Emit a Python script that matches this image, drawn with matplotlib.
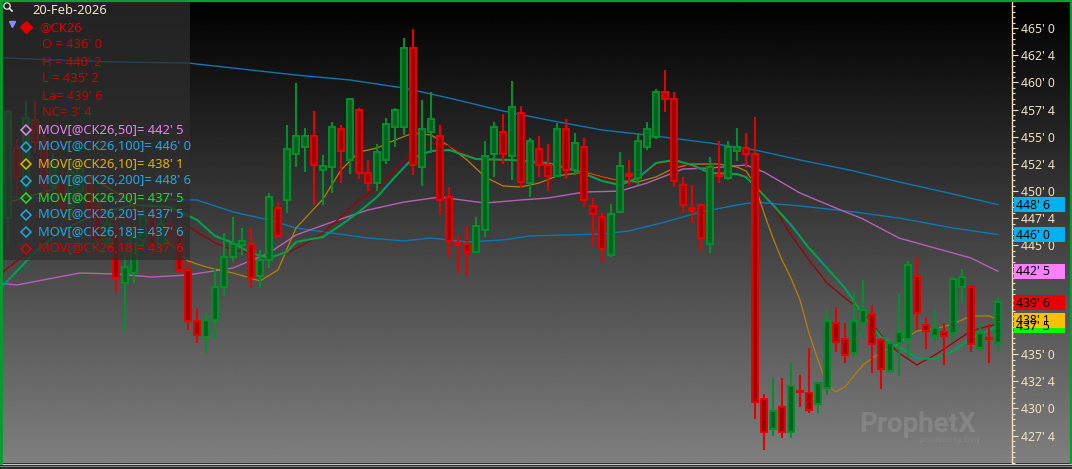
import numpy as np
import matplotlib
matplotlib.use("Agg")
import matplotlib.pyplot as plt
from matplotlib.patches import Rectangle, Circle
from matplotlib.transforms import blended_transform_factory

plt.rcParams['font.family'] = ['Noto Sans', 'DejaVu Sans']

# ---------------- data ----------------
opens = [
    447.5, 454.0, 450.5, 456.5, 454.5, 450.5, 450.75, 448.5, 450.0, 450.75,
    448.5, 445.5, 446.5, 441.5, 442.5, 445.5, 447.75, 445.0, 447.0, 446.0,
    442.75, 438.0, 436.6, 438.1, 441.2, 443.9, 445.0, 445.1, 442.2, 443.7,
    448.4, 449.2, 453.4, 454.1, 455.1, 451.9, 452.2, 455.7, 452.9, 457.5,
    451.7, 450.7, 452.9, 455.9, 455.9, 463.2, 452.2, 455.4, 455.1, 449.5,
    445.2, 445.1, 444.4, 446.4, 453.4, 455.4, 453.2, 457.2, 450.7, 453.9,
    452.4, 451.4, 455.7, 451.9, 454.1, 448.6, 447.6, 444.1, 448.1, 451.6,
    451.2, 454.1, 455.0, 459.1, 458.5, 450.6, 448.4, 448.7, 445.1, 451.5,
    451.2, 453.7, 454.0, 453.4, 430.9, 428.1, 430.1, 427.8, 431.6, 431.4,
    430.4, 431.9, 437.9, 436.4, 435.1, 437.9, 438.7, 436.3, 433.4, 436.0,
    436.4, 442.2, 437.7, 436.7, 437.0, 436.9, 441.2, 441.2, 435.6, 436.5,
    436.0]
highs = [
    457.5, 454.75, 458.25, 458.25, 455.5, 453.5, 452.0, 453.0, 453.0, 451.5,
    449.0, 448.0, 447.0, 444.5, 446.5, 448.5, 448.5, 447.75, 447.5, 446.75,
    443.5, 439.25, 438.8, 442.9, 446.1, 447.6, 446.6, 446.7, 444.6, 449.8,
    449.0, 456.1, 459.9, 455.8, 457.4, 453.3, 456.4, 456.1, 458.6, 457.6,
    452.9, 454.3, 456.7, 457.6, 464.1, 464.9, 458.4, 459.1, 456.1, 450.4,
    446.0, 446.8, 447.6, 454.6, 456.4, 457.1, 460.1, 457.8, 454.9, 455.1,
    454.3, 456.3, 456.6, 455.3, 454.9, 449.4, 448.1, 448.8, 453.6, 452.9,
    455.3, 456.4, 459.4, 461.1, 459.1, 451.3, 450.6, 448.7, 453.1, 454.6,
    454.6, 455.8, 455.3, 456.8, 431.3, 432.8, 432.8, 434.3, 433.1, 435.6,
    432.4, 439.1, 439.3, 437.9, 440.7, 441.8, 439.5, 436.5, 436.3, 440.5,
    443.6, 443.9, 438.3, 439.1, 437.9, 442.1, 442.8, 441.4, 437.9, 437.8,
    440.25]
lows = [
    445.0, 449.75, 450.0, 453.5, 449.5, 449.0, 448.0, 447.5, 449.0, 447.5,
    444.5, 444.75, 440.75, 437.0, 441.5, 444.5, 444.0, 444.25, 445.0, 442.5,
    437.25, 436.0, 435.1, 436.3, 440.3, 443.5, 444.1, 441.1, 441.1, 442.9,
    445.8, 448.0, 452.2, 451.8, 448.7, 448.7, 449.8, 450.7, 451.6, 451.1,
    450.0, 450.0, 452.5, 454.1, 455.2, 451.5, 450.5, 453.5, 447.8, 443.9,
    442.5, 442.2, 444.3, 445.8, 451.3, 452.5, 451.0, 450.3, 449.5, 451.3,
    450.0, 451.3, 451.1, 451.5, 448.5, 444.9, 443.5, 443.9, 448.0, 450.6,
    450.6, 453.8, 454.8, 457.3, 450.4, 448.0, 447.1, 444.5, 444.3, 450.7,
    451.0, 452.8, 452.1, 429.0, 426.2, 427.5, 427.3, 427.3, 430.1, 429.6,
    429.6, 431.2, 435.2, 434.2, 434.7, 436.6, 433.3, 431.8, 433.3, 433.0,
    434.6, 437.2, 435.5, 436.1, 434.0, 436.3, 439.7, 435.2, 435.2, 434.2,
    435.25]
closes = [
    457.25, 451.25, 456.75, 454.5, 450.5, 452.5, 448.75, 451.75, 452.0, 448.25,
    445.5, 447.0, 442.0, 443.0, 445.75, 447.75, 445.0, 447.0, 446.0, 442.75,
    438.0, 436.75, 438.1, 441.2, 443.9, 445.1, 445.4, 442.0, 443.7, 449.5,
    445.9, 453.9, 455.1, 455.1, 452.4, 452.3, 455.9, 453.7, 458.5, 451.7,
    450.7, 453.6, 456.2, 457.5, 463.2, 452.4, 455.7, 456.6, 449.2, 445.4,
    445.0, 444.4, 446.8, 453.2, 455.9, 453.4, 457.7, 450.8, 454.6, 452.4,
    451.4, 455.7, 451.9, 454.4, 449.2, 447.9, 444.7, 447.9, 452.3, 451.4,
    454.6, 455.7, 459.1, 458.5, 450.9, 448.7, 448.2, 445.7, 452.2, 451.4,
    454.1, 454.1, 453.4, 430.6, 427.8, 429.8, 427.8, 432.1, 431.5, 429.9,
    432.3, 438.0, 436.1, 434.9, 438.0, 439.1, 435.9, 433.6, 436.0, 437.0,
    443.2, 438.8, 437.1, 437.4, 436.7, 441.9, 442.1, 435.9, 436.9, 436.4,
    439.75]

ma200_bar = [-1, 0, 5, 12, 20, 25, 32, 38, 44, 49, 55, 60, 66, 71, 78, 83, 88, 94, 99, 105, 110]
ma200 = [462.3, 462.24, 462.06, 461.88, 461.78, 461.32, 460.68, 460.22, 459.48, 458.56, 457.37,
         456.54, 455.62, 455.16, 454.42, 453.78, 452.86, 451.85, 450.84, 449.73, 448.75]

ma100_bar = [-1, 10, 21, 25, 29, 32, 36, 40, 44, 47, 51, 55, 58, 62, 66, 69, 73, 77, 81, 83,
             88, 94, 99, 105, 110]
ma100 = [449.45, 449.27, 449.18, 448.08, 447.34, 446.60, 446.14, 445.68, 445.41, 445.68, 445.32,
         445.50, 445.87, 445.96, 446.05, 446.33, 447.15, 448.08, 448.72, 448.99, 448.63, 448.08,
         447.52, 446.60, 446.0]

ma50_bar = [-1, 1, 5, 8, 12, 16, 20, 25, 29, 32, 36, 40, 44, 48, 53, 57, 60, 64, 68, 71, 75,
            78, 82, 84, 88, 92, 95, 99, 103, 107, 110]
ma50 = [441.54, 441.36, 442.00, 442.46, 442.37, 442.09, 442.28, 442.92, 444.30, 445.96, 447.15,
        448.26, 448.99, 449.45, 448.90, 449.18, 449.36, 449.91, 450.00, 450.74, 452.03, 452.12,
        452.40, 451.75, 449.82, 448.44, 447.43, 445.68, 444.76, 443.84, 442.62]

ma10_bar = [-1, 4, 9, 13, 17, 20, 22, 25, 28, 30, 32, 35, 37, 39, 41, 43, 45, 47, 49, 51, 53,
            55, 57, 59, 61, 64, 66, 68, 70, 72, 74, 76, 79, 81, 82, 83, 84, 85, 86, 87, 88, 89,
            90, 91, 92, 93, 95, 97, 99, 101, 103, 105, 107, 109, 110]
ma10 = [448.72, 449.91, 451.39, 449.36, 445.96, 443.57, 443.02, 442.46, 441.73, 442.74, 446.60,
        449.27, 451.94, 453.60, 453.96, 454.70, 455.34, 455.16, 454.15, 452.86, 451.30, 450.47,
        450.38, 450.74, 451.39, 451.75, 451.30, 450.93, 450.84, 451.30, 452.12, 452.49, 452.49,
        452.21, 451.85, 450.56, 447.98, 445.68, 443.66, 442.00, 439.98, 436.94, 434.46, 432.16,
        431.52, 431.98, 434.00, 435.19, 436.02, 437.13, 437.31, 437.77, 438.51, 438.51, 438.2]

ma18_bar = [-1, 3, 6, 10, 14, 18, 21, 23, 25, 27, 29, 31, 33, 35, 37, 39, 41, 43, 45, 47, 49,
            51, 53, 57, 61, 64, 67, 69, 71, 73, 75, 77, 79, 82, 83, 85, 87, 89, 91, 93, 95, 97,
            99, 101, 103, 105, 107, 109, 110]
ma18 = [442.28, 444.85, 446.60, 448.17, 448.72, 447.89, 446.23, 445.22, 444.58, 444.30, 443.84,
        444.30, 445.13, 446.14, 447.62, 449.18, 450.28, 451.94, 453.60, 454.42, 454.15, 453.32,
        452.67, 452.67, 452.12, 451.66, 451.02, 450.74, 451.75, 452.58, 452.49, 452.03, 451.75,
        451.48, 450.74, 448.72, 445.96, 443.66, 441.54, 440.16, 438.87, 436.76, 435.10, 434.00,
        434.92, 436.02, 437.13, 437.58, 437.75]

ma20_bar = [-1, 3, 6, 10, 14, 18, 21, 23, 25, 27, 29, 31, 32, 35, 37, 39, 41, 43, 45, 47, 49,
            52, 56, 60, 63, 66, 68, 70, 72, 74, 76, 78, 81, 82, 83, 85, 87, 89, 91, 93, 95, 97,
            99, 101, 103, 105, 107, 109, 110]
ma20 = [440.90, 444.39, 446.42, 447.98, 448.72, 448.54, 447.34, 445.87, 445.22, 444.30, 443.84,
        444.39, 445.32, 445.78, 446.88, 448.08, 449.45, 451.30, 453.04, 453.69, 453.78, 452.95,
        452.86, 452.58, 451.94, 450.93, 450.56, 451.20, 452.58, 452.86, 452.40, 451.66, 451.57,
        451.29, 450.47, 448.72, 446.88, 444.76, 442.92, 441.08, 438.60, 436.58, 435.66, 434.64,
        434.55, 435.29, 436.39, 437.22, 437.62]

tick_prices = [465.0, 462.5, 460.0, 457.5, 455.0, 452.5, 450.0, 447.5, 445.0, 442.5, 440.0,
               437.5, 435.0, 432.5, 430.0, 427.5]
# tick labels that sit hidden under the price boxes in the reference
hidden_ticks = [442.5, 440.0, 437.5]

header_date = "20-Feb-2026"
symbol = "@CK26"
ohlc_lines = ["O = 436' 0", "H = 440' 2", "L = 435' 2", "La= 439' 6", "NC= 3' 4"]
legend_labels = ["MOV[@CK26,50]= 442' 5", "MOV[@CK26,100]= 446' 0", "MOV[@CK26,10]= 438' 1",
                 "MOV[@CK26,200]= 448' 6", "MOV[@CK26,20]= 437' 5", "MOV[@CK26,20]= 437' 5",
                 "MOV[@CK26,18]= 437' 6", "MOV[@CK26,18]= 437' 6"]
legend_colors = ['#e884ec', '#1ea8e8', '#e8b000', '#1ea8e8', '#22e022', '#1ea8e8', '#1ea8e8',
                 '#e00000']

box_prices = [437.625, 438.125, 439.75, 442.625, 446.0, 448.75]
box_labels = ["437' 5", "438' 1", "439' 6", "442' 5", "446' 0", "448' 6"]
box_colors = ['#00ff00', '#ffc000', '#e80000', '#ff80ff', '#00b0f0', '#00b0f0']


def fmt_price(p):
    whole = int(np.floor(p + 1e-9))
    eighth = int(round((p - whole) * 8))
    return f"{whole}' {eighth}"


# ---------------- figure ----------------
W, H = 1072, 469
fig = plt.figure(figsize=(W / 100, H / 100), dpi=100)

# background (pixel coordinates)
bg = fig.add_axes([0, 0, 1, 1], zorder=0)
bg.set_xlim(0, W)
bg.set_ylim(H, 0)
bg.axis('off')
grad = np.linspace(0, 0.5, 256)[:, None]
bg.imshow(grad, cmap='gray', vmin=0, vmax=1, aspect='auto', extent=[0, W, 463, 0],
          interpolation='bilinear')
bg.add_patch(Rectangle((0, 463), W, 6, color='#2c2c2c', lw=0))
bg.plot([0, W], [463.8, 463.8], color='#c8c8c8', lw=0.8)
bg.plot([0, W], [466.2, 466.2], color='#8a8a8a', lw=0.6)

# main chart axes
plot_right = 1012
ax = fig.add_axes([0, 6 / H, plot_right / W, 463 / H], zorder=1)
ax.patch.set_alpha(0)
ax.set_xlim(-0.89, 111.56)
ax.set_ylim(424.98, 467.58)

# moving averages
ax.plot(ma200_bar, ma200, color='#0a78b4', lw=1.0, zorder=2)
ax.plot(ma100_bar, ma100, color='#0a78b4', lw=1.0, zorder=2)
ax.plot(ma50_bar, ma50, color='#b860b8', lw=1.0, zorder=2)
ax.plot(ma10_bar, ma10, color='#b88000', lw=0.9, zorder=2)
ax.plot(ma18_bar, ma18, color='#a00000', lw=0.9, zorder=2)
ax.plot(ma20_bar, ma20, color='#00a838', lw=1.5, zorder=2)
ax.plot(ma20_bar, ma20, color='#0a80c0', lw=0.8, ls=(0, (1, 2)), zorder=2)

# candles
for i, (o, h, l, c) in enumerate(zip(opens, highs, lows, closes)):
    up = c > o
    ec = '#00902c' if up else '#e80000'
    fc = '#006420' if up else '#a00000'
    ax.plot([i, i], [l, h], color=ec, lw=1.5, solid_capstyle='butt', zorder=3)
    lo, hi = min(o, c), max(o, c)
    ax.add_patch(Rectangle((i - 0.36, lo), 0.72, max(hi - lo, 0.03), facecolor=fc,
                           edgecolor=ec, lw=1.4, zorder=4))

# right axis
for s in ['left', 'top', 'bottom']:
    ax.spines[s].set_visible(False)
ax.spines['right'].set_color('#f0e0c0')
ax.spines['right'].set_linewidth(1.0)
ax.set_xticks([])
ax.yaxis.tick_right()
ax.set_yticks(tick_prices)
ax.set_yticklabels(['' if p in hidden_ticks else fmt_price(p) for p in tick_prices])
ax.set_yticks(np.arange(425.0, 467.6, 0.5), minor=True)
ax.tick_params(axis='y', which='major', length=4.5, width=0.8, color='#f0e0c0',
               labelcolor='#f0e0c0', labelsize=8.8, pad=2)
ax.tick_params(axis='y', which='minor', length=2.5, width=0.8, color='#f0e0c0')

# price boxes on the axis
tr = blended_transform_factory(ax.transAxes, ax.transData)
for p, lab, col in zip(box_prices, box_labels, box_colors):
    ax.add_patch(Rectangle((1.0015, p - 0.69), 0.0505, 1.38, transform=tr, facecolor=col,
                           edgecolor='none', clip_on=False, zorder=6))
    ax.text(1.004, p - 0.05, lab, transform=tr, ha='left', va='center', fontsize=8.8,
            color='black', clip_on=False, zorder=7)

# overlay (pixel coordinates) for legend panel and watermark
ov = fig.add_axes([0, 0, 1, 1], zorder=2)
ov.set_xlim(0, W)
ov.set_ylim(H, 0)
ov.axis('off')
ov.patch.set_alpha(0)

ov.add_patch(Rectangle((0, 0), 190, 260, facecolor='#2e2e2e', alpha=0.75, lw=0))
# magnifier icon
ov.add_patch(Circle((7, 6), 3.2, fill=False, edgecolor='#e8e8e8', lw=0.9))
ov.plot([9.4, 12], [8.4, 11], color='#e8e8e8', lw=1.2)
ov.text(32, 11, header_date, color='#f0e6c8', fontsize=9.3, va='center', ha='left')
ov.plot([12], [24], marker='v', ms=5, color='#8c8cff', mec='#8c8cff')
ov.plot([26], [27], marker='D', ms=6, color='#e00000', mec='#e00000')
ov.text(39, 28, symbol, color='#e00000', fontsize=9.3, va='center', ha='left')
for k, t in enumerate(ohlc_lines):
    ov.text(42, 45 + 17 * k, t, color='#d00000', fontsize=9.3, va='center', ha='left')
for k, (t, col) in enumerate(zip(legend_labels, legend_colors)):
    y = 130 + 17 * k
    ov.plot([26], [y], marker='D', ms=5.5, mfc='none', mec=col, mew=1.1)
    ov.text(38, y, t, color=col, fontsize=9.3, va='center', ha='left')

# watermark
ov.text(918, 424, "ProphetX", color='white', alpha=0.12, fontsize=20, fontweight='bold',
        family=['Roboto', 'DejaVu Sans'], ha='center', va='center')
ov.text(950, 441, "powered by DTN", color='white', alpha=0.10, fontsize=5.5,
        ha='center', va='center')

# green frame
ov.plot([0, W], [0.6, 0.6], color='#00a030', lw=1.6)
ov.plot([0.8, 0.8], [0, 463], color='#00a030', lw=2.0)
ov.plot([W - 1.5, W - 1.5], [0, 463], color='#00a030', lw=1.6)

fig.savefig('out.png', dpi=100)
